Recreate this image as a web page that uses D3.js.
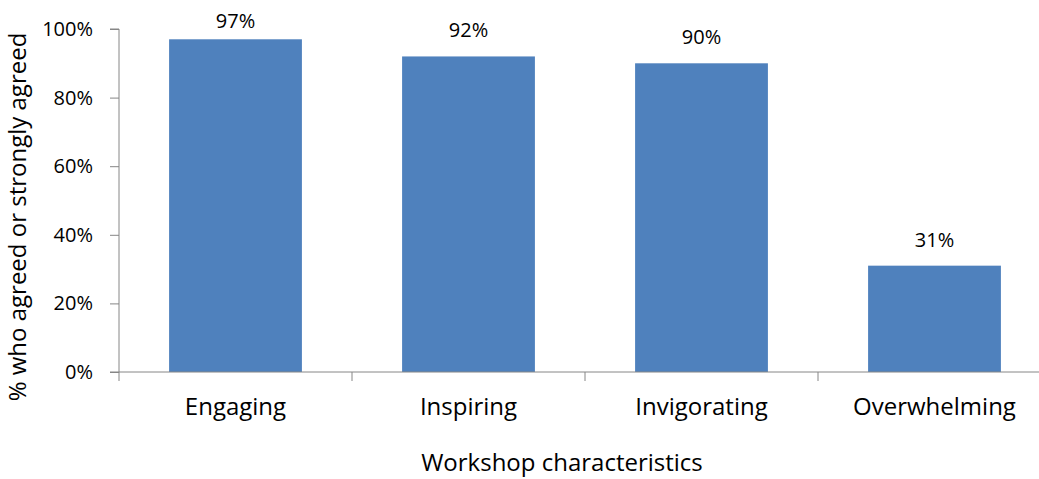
<!DOCTYPE html>
<html>
<head>
<meta charset="utf-8">
<script src="https://cdn.jsdelivr.net/npm/d3@7"></script>
<style>
  html, body { margin: 0; padding: 0; background: #fff; }
  svg text { font-family: "Open Sans", "Noto Sans", sans-serif; fill: #000; }
</style>
</head>
<body>
<svg id="chart" width="1039" height="479"></svg>
<script>
// Share of respondents who agreed or strongly agreed, by workshop characteristic
const categories = ["Engaging", "Inspiring", "Invigorating", "Overwhelming"];
const values = [97, 92, 90, 31];
const yTicks = [0, 20, 40, 60, 80, 100];

const svg = d3.select("#chart");
const plotLeft = 119, plotRight = 1051, plotTop = 29, plotBottom = 372;

const x = d3.scaleBand()
  .domain(categories)
  .range([plotLeft, plotRight])
  .paddingInner(0.43)
  .paddingOuter(0.215);

const y = d3.scaleLinear().domain([0, 100]).range([plotBottom, plotTop]);

const axisColor = "#868686";

// Bars
svg.append("g").selectAll("rect")
  .data(values)
  .join("rect")
  .attr("x", (d, i) => x(categories[i]))
  .attr("y", d => y(d))
  .attr("width", x.bandwidth())
  .attr("height", d => y(0) - y(d))
  .attr("fill", "#4F81BD");

// Value labels (kept inside the chart area at the top)
svg.append("g").selectAll("text")
  .data(values)
  .join("text")
  .attr("x", (d, i) => x(categories[i]) + x.bandwidth() / 2)
  .attr("y", d => Math.max(y(d) - 19, 28))
  .attr("text-anchor", "middle")
  .style("font-size", "20px")
  .text(d => d + "%");

// Y axis
const yAxis = svg.append("g")
  .attr("transform", `translate(${plotLeft},0)`)
  .call(d3.axisLeft(y).tickValues(yTicks).tickFormat(d => d + "%").tickSize(9).tickPadding(17));
yAxis.select(".domain").attr("stroke", axisColor).attr("d", `M-9,${plotTop}H0V${plotBottom}`);
yAxis.selectAll(".tick line").attr("stroke", axisColor);
yAxis.selectAll(".tick text").style("font-size", "20px").attr("fill", "#000");

// X axis
const bandStep = x.step();
const xTickPos = d3.range(categories.length + 1).map(i => plotLeft + i * bandStep);
const xAxis = svg.append("g");
xAxis.append("line")
  .attr("x1", plotLeft - 9).attr("x2", plotRight)
  .attr("y1", plotBottom).attr("y2", plotBottom)
  .attr("stroke", axisColor);
xAxis.selectAll("line.tick")
  .data(xTickPos)
  .join("line")
  .attr("class", "tick")
  .attr("x1", d => d).attr("x2", d => d)
  .attr("y1", plotBottom).attr("y2", plotBottom + 9)
  .attr("stroke", axisColor);
xAxis.selectAll("text")
  .data(categories)
  .join("text")
  .attr("x", d => x(d) + x.bandwidth() / 2)
  .attr("y", 415)
  .attr("text-anchor", "middle")
  .style("font-size", "24px")
  .text(d => d);

// Axis titles
svg.append("text")
  .attr("x", 562)
  .attr("y", 471)
  .attr("text-anchor", "middle")
  .style("font-size", "24px")
  .text("Workshop characteristics");

svg.append("text")
  .attr("transform", "translate(26,217) rotate(-90)")
  .attr("text-anchor", "middle")
  .style("font-size", "24px")
  .text("% who agreed or strongly agreed");
</script>
</body>
</html>
